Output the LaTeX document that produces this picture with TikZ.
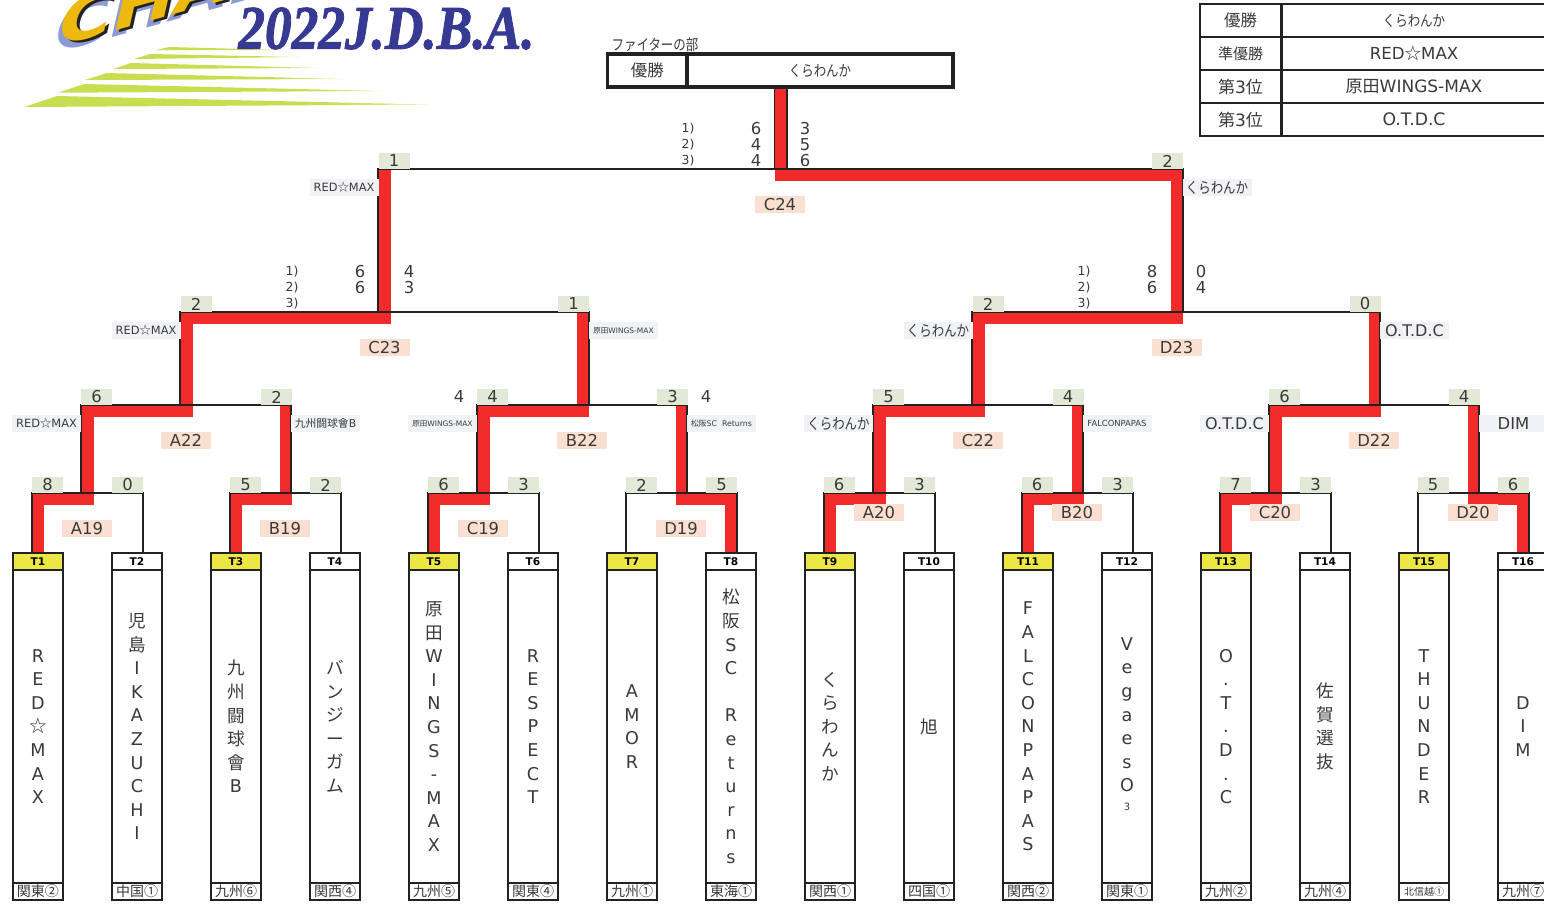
\documentclass[tikz,border=0pt]{standalone}
\usepackage{fontspec}
\setmainfont{DejaVu Sans}
\newfontfamily\cjkf{Noto Sans CJK JP}
\newfontfamily\kanaf[FakeStretch=0.82]{Noto Sans CJK JP}
\newfontfamily\logof[FakeBold=1.6]{Liberation Serif}
\newcommand{\jp}[1]{{\cjkf #1}}
\newcommand{\kn}[1]{{\kanaf #1}}
\newcommand{\fsz}[1]{\fontsize{#1}{#1}\selectfont}
\definecolor{winred}{HTML}{F12A2A}
\definecolor{linek}{HTML}{222222}
\definecolor{ink}{HTML}{3A3A3A}
\definecolor{cellgreen}{HTML}{E2E9D6}
\definecolor{peach}{HTML}{FBDFD0}
\definecolor{sidegray}{HTML}{F1F2F5}
\definecolor{seedyellow}{HTML}{ECE745}
\definecolor{stripegreen}{HTML}{C9DD50}
\definecolor{logoblue}{HTML}{363A92}
\definecolor{logogold}{HTML}{EDB90F}
\definecolor{logoshade}{HTML}{8C9BD4}
\pgfdeclarehorizontalshading{stripefade}{100bp}{color(0bp)=(stripegreen); color(62bp)=(stripegreen); color(100bp)=(white)}
\tikzset{
  win/.style={line width=6pt,line cap=rect,color=winred,line join=miter},
  bk/.style={line width=1pt,color=linek},
  scorecell/.style={fill=cellgreen,minimum width=15.5pt,minimum height=8pt,inner sep=0pt,text=ink,font=\fsz{8.2}},
  plainnum/.style={inner sep=0pt,text=ink,font=\fsz{8.2}},
  setnum/.style={inner sep=0pt,text=ink,font=\fsz{6.2}},
  matchlabel/.style={fill=peach,minimum width=25pt,minimum height=8.5pt,inner sep=0pt,text=ink,font=\fsz{8.2}},
  sidelabel/.style={fill=sidegray,minimum width=34.5pt,minimum height=8.5pt,inner sep=0pt,text=ink},
  teamhead/.style={draw=linek,line width=1pt,minimum width=25pt,minimum height=8.5pt,inner sep=0pt,text=black,font=\bfseries\fsz{5.3}},
  teambody/.style={draw=linek,line width=1pt,fill=white,minimum width=25pt,minimum height=156.5pt,inner sep=0pt,text=ink,align=center,font=\fontsize{8.8}{11.8}\selectfont},
  teamfoot/.style={draw=linek,line width=1pt,fill=white,minimum width=25pt,minimum height=8.5pt,inner sep=0pt,text=ink,font=\fsz{7}},
  champcell/.style={draw=linek,line width=1.9pt,fill=white,minimum height=16.5pt,inner sep=0pt,text=ink},
  resultcell/.style={draw=linek,line width=0.8pt,fill=white,minimum height=16.5pt,inner sep=0pt,text=ink},
  champletters/.style={inner sep=0pt,anchor=south west,xslant=0.55,rotate=18,font=\bfseries\fsz{33}},
  fromteam/.style={shorten <=3pt},
}
\begin{document}
\begin{tikzpicture}[x=0.5pt,y=-0.5pt]
\useasboundingbox (0,0) rectangle (1544,907);

% --- logo artwork
\foreach \i/\ax/\ay/\bx/\by/\cx/\cy in {
  1/24/107/57/96/427/104.5, 2/58/92.7/84/84/383/91, 3/85/80/107/73/343/79,
  4/113/69/131/63/319/68, 5/134/59/150/54/300/57, 6/156/50/169/47/283/50}{
  \shade[shading=stripefade] (\ax,\ay) -- (\bx,\by) -- (\cx,\cy) -- cycle;
}
\node[champletters,text=logoshade] (logoShade) at (50,56) {CHAM};
\node[champletters,text=linek] (logoDark) at (57,51) {CHAM};
\node[champletters,text=logogold] (logoGold) at (54,49) {CHAM};
\node[inner sep=0pt,anchor=south west,xscale=0.86,text=logoblue,font=\logof\bfseries\itshape\fsz{31}] (logoYear) at (238,50) {2022J.D.B.A.};

% --- team columns (boxes are placed first so connectors can name them)
\foreach \i/\nm/\ft in {
  1/{R\\E\\D\\\jp{☆}\\M\\A\\X}/{\jp{関東②}},
  2/{\jp{児}\\\jp{島}\\I\\K\\A\\Z\\U\\C\\H\\I}/{\jp{中国①}},
  3/{\jp{九}\\\jp{州}\\\jp{闘}\\\jp{球}\\\jp{會}\\B}/{\jp{九州⑥}},
  4/{\jp{バ}\\\jp{ン}\\\jp{ジ}\\\jp{ー}\\\jp{ガ}\\\jp{ム}}/{\jp{関西④}},
  5/{\jp{原}\\\jp{田}\\W\\I\\N\\G\\S\\-\\M\\A\\X}/{\jp{九州⑤}},
  6/{R\\E\\S\\P\\E\\C\\T}/{\jp{関東④}},
  7/{A\\M\\O\\R}/{\jp{九州①}},
  8/{\jp{松}\\\jp{阪}\\S\\C\\~\\R\\e\\t\\u\\r\\n\\s}/{\jp{東海①}},
  9/{\jp{く}\\\jp{ら}\\\jp{わ}\\\jp{ん}\\\jp{か}}/{\jp{関西①}},
  10/{\jp{旭}}/{\jp{四国①}},
  11/{F\\A\\L\\C\\O\\N\\P\\A\\P\\A\\S}/{\jp{関西②}},
  12/{V\\e\\g\\a\\e\\s\\O\\{\raisebox{2.5pt}{\fsz{5}3}}}/{\jp{関東①}},
  13/{O\\.\\T\\.\\D\\.\\C}/{\jp{九州②}},
  14/{\jp{佐}\\\jp{賀}\\\jp{選}\\\jp{抜}}/{\jp{九州④}},
  15/{T\\H\\U\\N\\D\\E\\R}/{\fsz{5}\jp{北信越①}},
  16/{D\\I\\M}/{\jp{九州⑦}}}{
  \pgfmathsetmacro{\cx}{38+99*(\i-1)}
  \pgfmathtruncatemacro{\odd}{mod(\i,2)}
  \ifnum\odd=1 \def\hd{seedyellow}\else\def\hd{white}\fi
  \node[teamhead,fill=\hd] (T\i) at (\cx,561.5) {T\i};
  \node[teambody] (T\i b) at (\cx,726.5) {\nm};
  \node[teamfoot] (T\i f) at (\cx,891.5) {\ft};
}

% --- bracket corners
\foreach \n/\lx/\rx/\y in {
  A19/32/143/493, B19/230/341/493, C19/428/539/493, D19/626/737/493,
  A20/824/935/493, B20/1022/1133/493, C20/1220/1331/493, D20/1418/1529/493,
  A22/81/291/405, B22/477/687/405, C22/873/1083/405, D22/1269/1479/405,
  C23/180/589/312, D23/972/1380/312, C24/378/1183/169}{
  \coordinate (\n l) at (\lx,\y);
  \coordinate (\n r) at (\rx,\y);
}
% red band centres: the stem of each match, 6 units under its bracket line
\foreach \n/\x/\y in {
  A19/87.5/499, B19/285.5/499, C19/483.5/499, D19/681.5/499,
  A20/879.5/499, B20/1077.5/499, C20/1275.5/499, D20/1473.5/499,
  A22/186.5/411, B22/582.5/411, C22/978.5/411, D22/1374.5/411,
  C23/384.5/318, D23/1177/318, C24/780.5/175}{
  \coordinate (m\n) at (\x,\y);
}

% --- winner paths (red), under the black lines
\draw[win,fromteam] (T1.north) |- (mA19); \draw[win,fromteam] (T3.north) |- (mB19);
\draw[win,fromteam] (T5.north) |- (mC19); \draw[win,fromteam] (T8.north) |- (mD19);
\draw[win,fromteam] (T9.north) |- (mA20); \draw[win,fromteam] (T11.north) |- (mB20);
\draw[win,fromteam] (T13.north) |- (mC20); \draw[win,fromteam] (T16.north) |- (mD20);
\draw[win] (mA19) |- (mA22); \draw[win] (mB19) -- (mB19 |- mA22);
\draw[win] (mC19) |- (mB22); \draw[win] (mD19) -- (mD19 |- mB22);
\draw[win] (mA20) |- (mC22); \draw[win] (mB20) -- (mB20 |- mC22);
\draw[win] (mC20) |- (mD22); \draw[win] (mD20) -- (mD20 |- mD22);
\draw[win] (mA22) |- (mC23); \draw[win] (mB22) -- (mB22 |- mC23);
\draw[win] (mC22) |- (mD23); \draw[win] (mD22) -- (mD22 |- mD23);
\draw[win] (mC23) -- (mC23 |- mC24); \draw[win] (mD23) |- (mC24);

% --- champion box
\node[champcell,minimum width=39.75pt,font=\fsz{8.2}] (champLabel) at (647.25,70.5) {\jp{優勝}};
\node[champcell,minimum width=133pt,font=\fsz{7.6}] (champName) at (820,70.5) {\kn{くらわんか}};
\draw[win,line cap=butt] (mC24) -- (mC24 |- champName.south);

% --- black bracket lines
\foreach \a/\b/\c/\d in {
  T1/A19l/A19r/T2, T3/B19l/B19r/T4, T5/C19l/C19r/T6, T7/D19l/D19r/T8,
  T9/A20l/A20r/T10, T11/B20l/B20r/T12, T13/C20l/C20r/T14, T15/D20l/D20r/T16}{
  \draw[bk] ([xshift=-3pt]\a.north) -- (\b) -- (\c) -- ([xshift=3pt]\d.north);
}
\draw[bk] (A22l |- A19l) -- (A22l) -- (A22r) -- (A22r |- A19l);
\draw[bk] (B22l |- C19l) -- (B22l) -- (B22r) -- (B22r |- C19l);
\draw[bk] (C22l |- A20l) -- (C22l) -- (C22r) -- (C22r |- A20l);
\draw[bk] (D22l |- C20l) -- (D22l) -- (D22r) -- (D22r |- C20l);
\draw[bk] (C23l |- A22l) -- (C23l) -- (C23r) -- (C23r |- A22l);
\draw[bk] (D23l |- C22l) -- (D23l) -- (D23r) -- (D23r |- C22l);
\draw[bk] (C24l |- C23l) -- (C24l) -- (C24r) -- (C24r |- D23l);
\draw[bk] ([xshift=3pt]mC24 |- C24l) -- ([xshift=3pt]mC24 |- champName.south);
\draw[bk,line width=0.6pt] ([xshift=-3pt]mC24 |- C24l) -- ([xshift=-3pt]mC24 |- champName.south);

% --- score cells
\foreach \n/\x/\y/\t in {
  a/47.5/485/8, b/127.5/485/0, c/245.5/485/5, d/325.5/485/2, e/443.5/485/6, f/523.5/485/3,
  g/641.5/485/2, h/721.5/485/5, i/839/485/6, j/919.5/485/3, k/1037/485/6, l/1117.5/485/3,
  m/1235.5/485/7, n/1315.5/485/3, o/1433/485/5, p/1513/485/6,
  q/96.5/397/6, r/276.5/397/2, s/492.5/397/4, t/672.5/397/3, u/888.5/397/5, v/1068/397/4,
  w/1284.5/397/6, x/1464/397/4,
  y/196/304/2, z/573.5/304/1, aa/988/304/2, ab/1365/304/0, ac/394/161/1, ad/1167.5/161/2}{
  \node[scorecell] (score\n) at (\x,\y) {\t};
}
% --- extra numbers and set scores
\node[plainnum] (extraL) at (459,397) {4};
\node[plainnum] (extraR) at (706,397) {4};
\foreach \n/\x/\y/\t in {
  a/756/129/6, b/756/145/4, c/756/161/4, d/805/129/3, e/805/145/5, f/805/161/6,
  g/360/272/6, h/360/288/6, i/409/272/4, j/409/288/3,
  k/1152/272/8, l/1152/288/6, m/1201/272/0, n/1201/288/4}{
  \node[plainnum] (set\n) at (\x,\y) {\t};
}
\foreach \n/\x/\y/\t in {
  a/688/129/1), b/688/145/2), c/688/161/3),
  d/292/272/1), e/292/288/2), f/292/304/3),
  g/1084/272/1), h/1084/288/2), i/1084/304/3)}{
  \node[setnum] (idx\n) at (\x,\y) {\t};
}
% --- match labels
\foreach \t/\x/\y in {
  A19/87/528.5, B19/285/528.5, C19/483/528.5, D19/681/528.5,
  A20/879/512.5, B20/1077/512.5, C20/1275/512.5, D20/1473/512.5,
  A22/186/440.5, B22/582/440.5, C22/978/440.5, D22/1374/440.5,
  C23/384.5/347.5, D23/1176.5/347.5, C24/780/204.5}{
  \node[matchlabel] (label\t) at (\x,\y) {\t};
}
% --- team names beside the brackets
\foreach \n/\x/\y/\f/\t in {
  a/46.5/423.5/5.7/{RED\jp{☆}MAX},
  b/325.5/423.5/5.4/{\jp{九州闘球會}B},
  c/442.5/423.5/3.75/{\jp{原田}WINGS-MAX},
  d/721.5/423.5/3.9/{\jp{松阪}SC\ \ Returns},
  e/838.5/423.5/7.6/{\kn{くらわんか}},
  f/1117/423.5/4.2/{FALCONPAPAS},
  g/1234.5/423.5/8/{O.T.D.C},
  h/1513.5/423.5/8.2/{DIM},
  i/146/330.5/5.7/{RED\jp{☆}MAX},
  j/623.5/330.5/3.75/{\jp{原田}WINGS-MAX},
  k/938/330.5/7.6/{\kn{くらわんか}},
  l/1414.5/330.5/8/{O.T.D.C},
  m/344/187.5/5.7/{RED\jp{☆}MAX},
  n/1217/187.5/7.6/{\kn{くらわんか}}}{
  \node[sidelabel,font=\fsz{\f}] (side\n) at (\x,\y) {\t};
}
% --- heading and result table
\node[inner sep=0pt,text=ink,font=\fsz{7.6}] (division) at (655,45) {\kn{ファイターの部}};
\foreach \n/\y/\fa/\a/\fb/\b in {
  a/20.5/8.2/{\jp{優勝}}/7.6/{\kn{くらわんか}},
  b/53.5/7.5/{\jp{準優勝}}/8.3/{RED\jp{☆}MAX},
  c/86.5/8.5/{\jp{第}3\jp{位}}/8.5/{\jp{原田}WINGS-MAX},
  d/119.5/8.5/{\jp{第}3\jp{位}}/8.6/{O.T.D.C}}{
  \node[resultcell,minimum width=40.5pt,font=\fsz{\fa}] (rank\n) at (1240.5,\y) {\a};
  \node[resultcell,minimum width=133pt,font=\fsz{\fb}] (team\n) at (1414,\y) {\b};
}
\draw[bk] (ranka.north east) -- (rankd.south east);
\end{tikzpicture}
\end{document}
